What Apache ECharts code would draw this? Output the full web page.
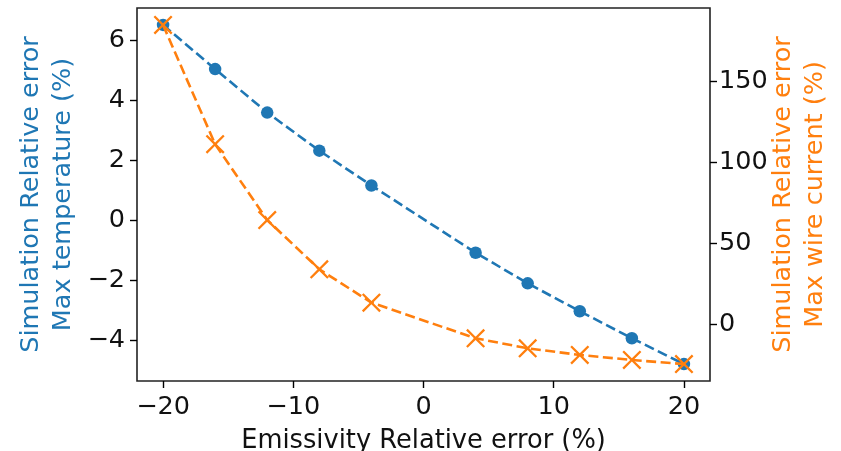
<!DOCTYPE html>
<html>
<head>
<meta charset="utf-8">
<script src="https://cdn.jsdelivr.net/npm/echarts@6/dist/echarts.min.js"></script>
<style>
html,body{margin:0;padding:0;background:#fff;}
#chart{width:841px;height:451px;}
</style>
</head>
<body>
<div id="chart"></div>
<script>
const xValues = [-20, -16, -12, -8, -4, 4, 8, 12, 16, 20];
const tempError = [6.52, 5.05, 3.6, 2.33, 1.17, -1.07, -2.09, -3.02, -3.92, -4.78];
const currentError = [184.6, 111, 64.2, 33.8, 13.2, -8.8, -15, -19.1, -22.2, -24.7];
const xTicks = [-20, -10, 0, 10, 20];
const leftTicks = [-4, -2, 0, 2, 4, 6];
const rightTicks = [0, 50, 100, 150];
const xLabel = 'Emissivity Relative error (%)';
const leftLabel = 'Simulation Relative error\nMax temperature (%)';
const rightLabel = 'Simulation Relative error\nMax wire current (%)';

const FONT = 'DejaVu Sans';
const BLUE = '#1f77b4';
const ORANGE = '#ff7f0e';
const fmt = v => String(v).replace('-', '\u2212');
const xMark = 'path://M1.7,0 L10,8.3 L18.3,0 L20,1.7 L11.7,10 L20,18.3 L18.3,20 L10,11.7 L1.7,20 L0,18.3 L8.3,10 L0,1.7 Z';

const chart = echarts.init(document.getElementById('chart'), null, {renderer: 'canvas'});
const tickStyle = {show: true, length: 7, lineStyle: {color: '#000', width: 1.4}};
const labelStyle = {fontFamily: FONT, fontSize: 25.5, color: '#111'};

chart.setOption({
  animation: false,
  backgroundColor: '#fff',
  grid: {left: 137, right: 131, top: 8, bottom: 70, outerBoundsMode: 'none', containLabel: false,
         show: true, borderColor: '#222', borderWidth: 1.6, backgroundColor: 'transparent'},
  xAxis: {
    type: 'value', min: -22, max: 22,
    axisLine: {show: false, onZero: false},
    axisTick: Object.assign({customValues: xTicks}, tickStyle),
    axisLabel: Object.assign({customValues: xTicks, margin: 13, formatter: fmt}, labelStyle),
    splitLine: {show: false},
    name: xLabel, nameLocation: 'middle', nameGap: 47, nameMoveOverlap: false,
    nameTextStyle: {fontFamily: FONT, fontSize: 25.7, color: '#111'}
  },
  yAxis: [{
    type: 'value', position: 'left', min: -5.345, max: 7.085,
    axisLine: {show: false, onZero: false},
    axisTick: Object.assign({customValues: leftTicks}, tickStyle),
    axisLabel: Object.assign({customValues: leftTicks, margin: 12, formatter: fmt}, labelStyle),
    splitLine: {show: false},
    name: leftLabel, nameLocation: 'middle', nameRotate: 90, nameGap: 58, nameMoveOverlap: false,
    nameTextStyle: {fontFamily: FONT, fontSize: 25.5, lineHeight: 31.5, color: BLUE, align: 'center'}
  }, {
    type: 'value', position: 'right', min: -35.17, max: 195.07,
    axisLine: {show: false, onZero: false},
    axisTick: Object.assign({customValues: rightTicks}, tickStyle),
    axisLabel: Object.assign({customValues: rightTicks, margin: 9, formatter: fmt}, labelStyle),
    splitLine: {show: false},
    name: rightLabel, nameLocation: 'middle', nameRotate: 90, nameGap: 58, nameMoveOverlap: false,
    nameTextStyle: {fontFamily: FONT, fontSize: 25.5, lineHeight: 31.5, color: ORANGE, align: 'center'}
  }],
  series: [{
    type: 'line', yAxisIndex: 0,
    data: xValues.map((x, i) => [x, tempError[i]]),
    symbol: 'circle', symbolSize: 12.5,
    itemStyle: {color: BLUE},
    lineStyle: {color: BLUE, width: 2.6, type: [10, 4.5]},
    z: 2
  }, {
    type: 'line', yAxisIndex: 1,
    data: xValues.map((x, i) => [x, currentError[i]]),
    symbol: xMark, symbolSize: 19,
    itemStyle: {color: ORANGE},
    lineStyle: {color: ORANGE, width: 2.6, type: [10, 4.5]},
    z: 3
  }]
});
</script>
</body>
</html>
